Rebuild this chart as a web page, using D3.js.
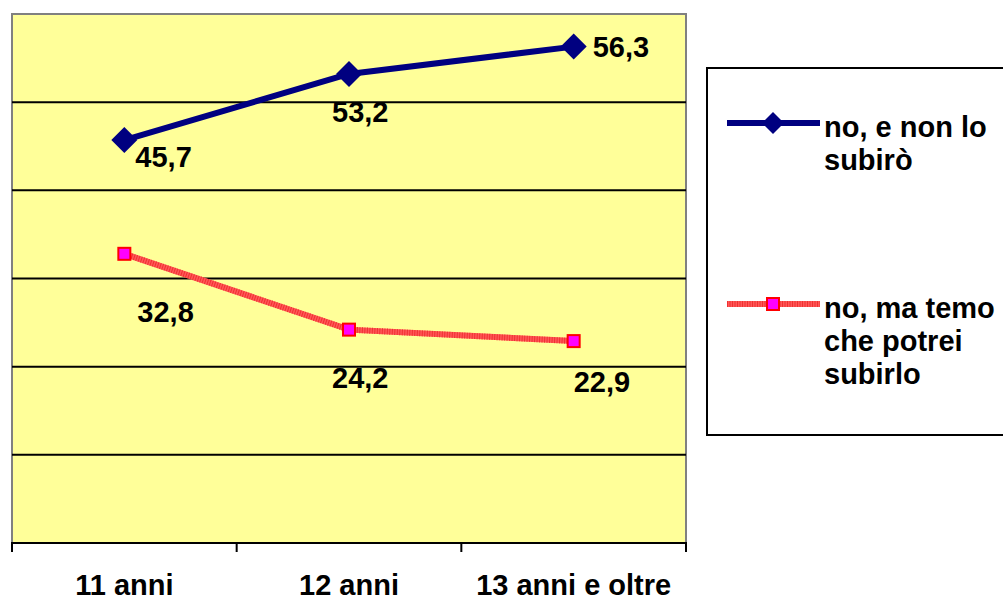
<!DOCTYPE html>
<html><head><meta charset="utf-8">
<script src="https://cdn.jsdelivr.net/npm/d3@7"></script>
<style>body{margin:0;background:#fff}svg{display:block}text{font-family:"Liberation Sans",Arial,sans-serif;font-weight:bold}</style>
</head><body>
<svg id="c" width="1003" height="601"></svg>
<script>
const categories = ["11 anni", "12 anni", "13 anni e oltre"];
const seriesNames = [["no, e non lo", "subirò"], ["no, ma temo", "che potrei", "subirlo"]];
const serieNo = [45.7, 53.2, 56.3];
const serieTemo = [32.8, 24.2, 22.9];
const valueLabels = [["45,7", "53,2", "56,3"], ["32,8", "24,2", "22,9"]];
const yTicks = [0, 10, 20, 30, 40, 50, 60];

const labelOffsets = [[[11, 27], [-17, 48], [19, 10]], [[13, 68], [-17, 58], [0, 51]]];

const svg = d3.select("#c");
const L = 12, R = 686, T = 14, B = 543;
const x = d3.scaleBand().domain(categories).range([L, R]);
const y = d3.scaleLinear().domain([0, 60]).range([B, T]);

// plot background
svg.append("rect").attr("x", L).attr("y", T).attr("width", R - L).attr("height", B - T)
  .attr("fill", "#FFFF99").attr("stroke", "#808080").attr("stroke-width", 2);

// gridlines
svg.append("g").selectAll("line").data(yTicks.filter(v => v > 0 && v < 60)).join("line")
  .attr("x1", L).attr("x2", R).attr("y1", d => y(d)).attr("y2", d => y(d))
  .attr("stroke", "#000").attr("stroke-width", 2);

// x axis
const xAxis = d3.axisBottom(x).tickSize(0).tickPadding(0);
const gx = svg.append("g").attr("transform", `translate(0,${B})`).call(xAxis);
gx.select(".domain").remove();
gx.selectAll("text").attr("font-size", 29).attr("fill", "#000").attr("dy", 0).attr("y", 52)
  .attr("font-family", '"Liberation Sans",Arial,sans-serif').attr("font-weight", "bold");
svg.append("line").attr("x1", L - 1).attr("x2", R + 1).attr("y1", B).attr("y2", B)
  .attr("stroke", "#000").attr("stroke-width", 2);
const tickPos = categories.map(c => x(c)).concat([x(categories[categories.length - 1]) + x.bandwidth()]);
svg.append("g").selectAll("line").data(tickPos).join("line")
  .attr("x1", d => d).attr("x2", d => d).attr("y1", B).attr("y2", B + 9)
  .attr("stroke", "#000").attr("stroke-width", 2);

const cx = c => x(c) + x.bandwidth() / 2;
const line = d3.line().x((d, i) => cx(categories[i])).y(d => y(d));

// blue series
svg.append("path").datum(serieNo).attr("d", line).attr("fill", "none")
  .attr("stroke", "#000080").attr("stroke-width", 6).attr("stroke-linejoin", "round");
const diamond = (px, py, r) => `M${px},${py - r}L${px + r},${py}L${px},${py + r}L${px - r},${py}Z`;
svg.append("g").selectAll("path").data(serieNo).join("path")
  .attr("d", (d, i) => diamond(cx(categories[i]), y(d), 13)).attr("fill", "#000080");

// red series
svg.append("path").datum(serieTemo).attr("d", line).attr("fill", "none")
  .attr("stroke", "#FF5858").attr("stroke-width", 6);
svg.append("path").datum(serieTemo).attr("d", line).attr("fill", "none")
  .attr("stroke", "#F03030").attr("stroke-width", 6).attr("stroke-dasharray", "1,1.5");
svg.append("g").selectAll("rect").data(serieTemo).join("rect")
  .attr("x", (d, i) => cx(categories[i]) - 6).attr("y", d => y(d) - 6)
  .attr("width", 12).attr("height", 12)
  .attr("fill", "#FF00FF").attr("stroke", "#FF0000").attr("stroke-width", 2);

// value labels
[serieNo, serieTemo].forEach((s, si) => {
  svg.append("g").selectAll("text").data(s).join("text")
    .attr("x", (d, i) => cx(categories[i]) + labelOffsets[si][i][0])
    .attr("y", (d, i) => y(d) + labelOffsets[si][i][1])
    .attr("font-size", 29).attr("fill", "#000")
    .text((d, i) => valueLabels[si][i]);
});

// legend
svg.append("rect").attr("x", 707).attr("y", 68).attr("width", 320).attr("height", 367)
  .attr("fill", "#fff").attr("stroke", "#000").attr("stroke-width", 2);
const lg = svg.append("g");
lg.append("line").attr("x1", 727).attr("x2", 820).attr("y1", 123).attr("y2", 123)
  .attr("stroke", "#000080").attr("stroke-width", 6);
lg.append("path").attr("d", diamond(773, 123, 11)).attr("fill", "#000080");
lg.append("line").attr("x1", 727).attr("x2", 820).attr("y1", 304).attr("y2", 304)
  .attr("stroke", "#FF5858").attr("stroke-width", 6);
lg.append("line").attr("x1", 727).attr("x2", 820).attr("y1", 304).attr("y2", 304)
  .attr("stroke", "#F03030").attr("stroke-width", 6).attr("stroke-dasharray", "1,1.5");
lg.append("rect").attr("x", 767).attr("y", 298).attr("width", 12).attr("height", 12)
  .attr("fill", "#FF00FF").attr("stroke", "#FF0000").attr("stroke-width", 2);
const legendBase = [137, 318];
seriesNames.forEach((lines, si) => {
  lines.forEach((t, li) => {
    lg.append("text").attr("x", 824).attr("y", legendBase[si] + li * 33)
      .attr("font-size", 29).attr("fill", "#000").text(t);
  });
});
</script>
</body></html>
